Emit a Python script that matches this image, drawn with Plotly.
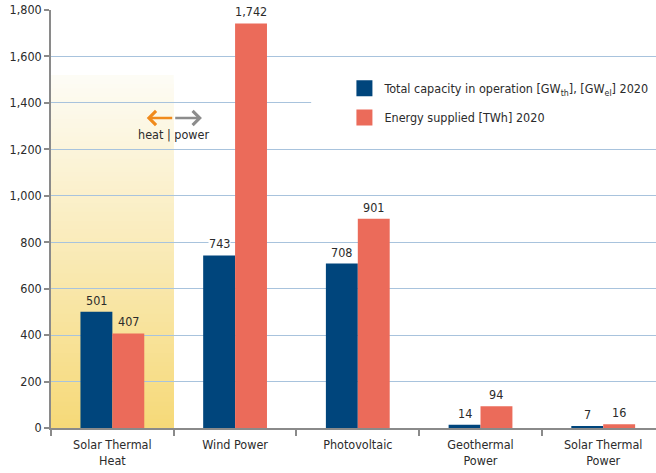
import plotly.graph_objects as go

# Categories and 2020 values
categories = ["Solar Thermal<br>Heat", "Wind Power", "Photovoltaic",
              "Geothermal<br>Power", "Solar Thermal<br>Power"]
capacity = [501, 743, 708, 14, 7]      # GWth / GWel
energy = [407, 1742, 901, 94, 16]      # TWh
y_ticks = [0, 200, 400, 600, 800, 1000, 1200, 1400, 1600, 1800]
y_ticktext = [f"{v:,}" for v in y_ticks]

BLUE = "#00457c"
RED = "#eb6b5a"
GRID = "#a8c3dd"
AXIS = "#8a8a8a"
TEXT = "#2b2b2b"
FONT = "DejaVu Sans Condensed, DejaVu Sans, sans-serif"
FS = 12.5

pos = list(range(len(categories)))
fig = go.Figure()

fig.add_trace(go.Bar(x=pos, y=capacity, marker_color=BLUE, marker_line_width=0,
                     showlegend=False, name="capacity"))
fig.add_trace(go.Bar(x=pos, y=energy, marker_color=RED, marker_line_width=0,
                     showlegend=False, name="energy"))

# legend entries with larger square swatches
fig.add_trace(go.Scatter(x=[None], y=[None], mode="markers", legendgroup="a",
                         marker=dict(symbol="square", size=16, color=BLUE),
                         name="Total capacity in operation [GW<sub>th</sub>], [GW<sub>el</sub>] 2020"))
fig.add_trace(go.Scatter(x=[None], y=[None], mode="markers", legendgroup="b",
                         marker=dict(symbol="square", size=16, color=RED),
                         name="Energy supplied [TWh] 2020"))

bar_w = 0.26
annotations = []
for i in pos:
    for val, off in ((capacity[i], -bar_w / 2), (energy[i], bar_w / 2)):
        annotations.append(dict(
            x=i + off, y=val, xref="x", yref="y", text=f"{val:,}",
            showarrow=False, yanchor="bottom", yshift=3,
            font=dict(size=FS, color=TEXT, family=FONT),
            bgcolor="rgba(0,0,0,0)" if i == 0 else "white", borderpad=0))

# heat | power marker on the first category boundary
annotations += [
    dict(x=0.28, y=1335, ax=0.5, ay=1335, xref="x", yref="y", axref="x", ayref="y",
         text="", showarrow=True, arrowhead=4, arrowsize=1.1, arrowwidth=2.5,
         arrowcolor="#f08a1c", standoff=0),
    dict(x=0.73, y=1335, ax=0.5, ay=1335, xref="x", yref="y", axref="x", ayref="y",
         text="", showarrow=True, arrowhead=4, arrowsize=1.1, arrowwidth=2.5,
         arrowcolor="#8c8c8c", standoff=0),
    dict(x=0.5, y=1265, xref="x", yref="y", text="heat | power", showarrow=False,
         font=dict(size=FS, color=TEXT, family=FONT)),
]

# vertical yellow gradient behind the solar thermal heat group;
# stacked from the bottom so neighbouring bands never leave seams
shapes = []
n = 80
top = 1520
c0 = (253, 252, 246)
c1 = (246, 217, 120)
for k in range(n):
    t = (n - k - 0.5) / n
    col = tuple(round(c1[j] + (c0[j] - c1[j]) * t) for j in range(3))
    shapes.append(dict(type="rect", xref="x", yref="y", layer="below",
                       x0=-0.5, x1=0.5, y0=0, y1=top * (n - k) / n,
                       fillcolor=f"rgb{col}", line_width=0))

# white panel behind the legend
shapes.append(dict(type="rect", xref="x", yref="y", layer="between",
                   x0=1.62, x1=4.5, y0=1270, y1=1560, fillcolor="white", line_width=0))

fig.update_layout(
    width=656, height=473,
    margin=dict(l=51, r=0, t=10, b=45, autoexpand=False),
    paper_bgcolor="white", plot_bgcolor="rgba(0,0,0,0)",
    barmode="group", bargap=0.48, bargroupgap=0,
    font=dict(family=FONT, size=FS, color=TEXT),
    annotations=annotations, shapes=shapes,
    legend=dict(x=0.485, y=0.848, xanchor="left", yanchor="top",
                bgcolor="rgba(0,0,0,0)", font=dict(size=FS, color=TEXT, family=FONT),
                tracegroupgap=10, traceorder="grouped", itemclick=False),
    xaxis=dict(range=[-0.5, 4.43], tickmode="array", tickvals=pos, ticktext=categories,
               ticks="", showline=True, linecolor=AXIS, linewidth=1.5, showgrid=False,
               zeroline=False, automargin=False,
               tickfont=dict(size=FS, color=TEXT, family=FONT),
               ticklabelstandoff=4,
               minor=dict(tickmode="array", tickvals=[-0.5, 0.5, 1.5, 2.5, 3.5],
                          ticks="outside", ticklen=6, tickcolor=AXIS, tickwidth=1.5,
                          showgrid=False)),
    yaxis=dict(range=[0, 1800], tickmode="array", tickvals=y_ticks, ticktext=y_ticktext,
               ticks="outside", ticklen=5, tickcolor=AXIS, tickwidth=1.5,
               showline=True, linecolor=AXIS, linewidth=1.5, automargin=False,
               showgrid=True, gridcolor=GRID, gridwidth=1, zeroline=False,
               tickfont=dict(size=FS, color=TEXT, family=FONT)),
)

fig.write_html("out.html")
